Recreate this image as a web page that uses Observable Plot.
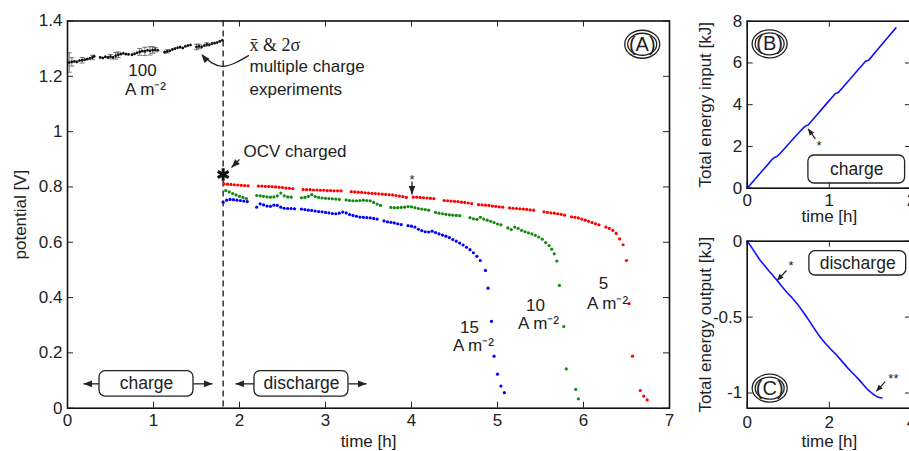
<!DOCTYPE html>
<html><head><meta charset="utf-8">
<script src="https://cdn.jsdelivr.net/npm/d3@7"></script>
<script src="https://cdn.jsdelivr.net/npm/@observablehq/plot@0.6"></script>
<style>
html,body{margin:0;padding:0;background:#fff;}
#wrap{position:relative;width:909px;height:451px;overflow:hidden;background:#fff;}
#wrap svg{position:absolute;}
</style></head><body><div id="wrap"></div>
<script>
// ---------- data ----------
const xTicksA = [0,1,2,3,4,5,6,7];
const yTicksA = [0,0.2,0.4,0.6,0.8,1,1.2,1.4];
const xTicksB = [0,1,2];
const yTicksB = [0,2,4,6,8];
const xTicksC = [0,2,4];
const yTicksC = [0,-0.5,-1];

// charge at 100 A m-2 : [time h, potential V, 2 sigma]
const charge100 = [[0.02,1.250,0.035],[0.05,1.252,0.015],[0.08,1.254,0.004],[0.11,1.252,0.004],[0.14,1.257,0.004],[0.17,1.258,0.010],[0.20,1.260,0.004],[0.23,1.262,0.004],[0.26,1.265,0.004],[0.29,1.268,0.008],[0.31,1.272,0.004],
[0.38,1.268,0.004],[0.41,1.266,0.004],[0.44,1.270,0.004],[0.47,1.268,0.004],[0.50,1.271,0.008],[0.53,1.268,0.004],[0.56,1.274,0.012],[0.59,1.278,0.010],[0.62,1.280,0.004],[0.65,1.283,0.004],[0.68,1.280,0.004],[0.71,1.279,0.004],
[0.75,1.278,0.004],[0.78,1.281,0.004],[0.81,1.285,0.004],[0.84,1.288,0.012],[0.87,1.291,0.004],[0.90,1.290,0.015],[0.93,1.294,0.004],[0.96,1.292,0.015],[0.99,1.295,0.012],[1.02,1.296,0.008],[1.05,1.294,0.004],
[1.13,1.287,0.004],[1.16,1.290,0.006],[1.19,1.292,0.004],[1.22,1.297,0.004],[1.25,1.300,0.004],[1.28,1.303,0.004],[1.31,1.305,0.004],[1.34,1.302,0.004],[1.37,1.308,0.004],[1.40,1.311,0.004],[1.43,1.313,0.004],
[1.50,1.306,0.010],[1.53,1.308,0.008],[1.56,1.306,0.004],[1.59,1.311,0.004],[1.62,1.315,0.006],[1.65,1.314,0.004],[1.68,1.318,0.004],[1.71,1.320,0.004],[1.74,1.322,0.004],[1.77,1.326,0.004],[1.80,1.330,0.004]];

const chargeEnd = [1.81];
const ocvCharged = [[1.81,0.845]];

// discharge at 5 A m-2 (red)
const discharge5 = [[1.82,0.811],[1.86,0.810],[1.90,0.809],[1.94,0.808],[1.98,0.807],[2.02,0.806],[2.06,0.805],[2.10,0.804],
[2.22,0.803],[2.26,0.803],[2.30,0.802],[2.34,0.802],[2.38,0.801],[2.42,0.800],[2.46,0.799],[2.50,0.798],[2.54,0.796],[2.58,0.795],[2.62,0.794],
[2.74,0.791],[2.78,0.790],[2.82,0.790],[2.86,0.789],[2.90,0.789],[2.94,0.788],[2.98,0.788],[3.02,0.787],[3.06,0.787],[3.10,0.786],[3.14,0.786],[3.18,0.786],
[3.30,0.783],[3.34,0.782],[3.38,0.781],[3.42,0.780],[3.46,0.779],[3.50,0.778],[3.54,0.777],[3.58,0.776],[3.62,0.775],[3.66,0.774],[3.70,0.773],[3.74,0.772],[3.78,0.771],[3.82,0.769],[3.86,0.767],[3.90,0.765],[3.94,0.762],
[4.02,0.763],[4.06,0.763],[4.10,0.762],[4.14,0.761],[4.18,0.760],[4.22,0.759],[4.26,0.758],
[4.38,0.751],[4.42,0.750],[4.46,0.749],[4.50,0.748],[4.54,0.747],[4.58,0.745],[4.62,0.744],[4.66,0.742],[4.70,0.740],
[4.78,0.736],[4.82,0.735],[4.86,0.734],[4.90,0.733],[4.94,0.731],[4.98,0.730],[5.02,0.728],[5.06,0.727],
[5.14,0.724],[5.18,0.723],[5.22,0.722],[5.26,0.721],[5.30,0.720],[5.34,0.719],[5.38,0.717],[5.42,0.716],
[5.54,0.710],[5.58,0.708],[5.62,0.706],[5.66,0.705],[5.70,0.703],[5.74,0.701],[5.78,0.698],
[5.86,0.692],[5.90,0.690],[5.94,0.688],[5.98,0.684],[6.02,0.680],[6.06,0.676],[6.10,0.671],[6.14,0.667],[6.18,0.663],
[6.26,0.655],[6.30,0.650],[6.34,0.643],[6.38,0.632],[6.42,0.612],[6.46,0.591],[6.50,0.534],[6.53,0.378],[6.57,0.188],[6.66,0.064],[6.70,0.044],[6.74,0.030]];

// discharge at 10 A m-2 (green)
const discharge10 = [[1.84,0.787],[1.88,0.782],[1.92,0.776],[1.96,0.771],[2.00,0.766],[2.04,0.762],[2.08,0.758],
[2.20,0.769],[2.24,0.768],[2.28,0.766],[2.32,0.764],[2.36,0.763],[2.40,0.764],[2.44,0.768],[2.48,0.778],[2.52,0.768],[2.56,0.764],[2.60,0.763],
[2.72,0.761],[2.76,0.762],[2.80,0.766],[2.84,0.772],[2.88,0.765],[2.92,0.762],[2.96,0.760],[3.00,0.759],[3.04,0.758],[3.08,0.757],[3.12,0.756],[3.16,0.755],
[3.24,0.753],[3.28,0.751],[3.32,0.750],[3.36,0.750],[3.40,0.751],[3.44,0.752],[3.48,0.751],[3.52,0.750],[3.56,0.744],[3.60,0.738],[3.64,0.733],
[3.76,0.726],[3.80,0.725],[3.84,0.725],[3.88,0.726],[3.92,0.727],[3.96,0.729],[4.00,0.728],[4.04,0.725],[4.08,0.722],[4.12,0.720],[4.16,0.718],[4.20,0.716],
[4.28,0.708],[4.32,0.705],[4.36,0.703],[4.40,0.701],[4.44,0.699],[4.48,0.698],[4.52,0.697],[4.56,0.696],
[4.68,0.689],[4.72,0.685],[4.76,0.683],[4.80,0.690],[4.84,0.684],[4.88,0.680],[4.92,0.676],[4.96,0.671],[5.00,0.666],[5.04,0.663],
[5.12,0.652],[5.16,0.646],[5.20,0.655],[5.24,0.650],[5.28,0.643],[5.32,0.638],[5.36,0.634],[5.40,0.630],[5.44,0.625],[5.48,0.619],[5.52,0.611],[5.56,0.599],[5.60,0.588],[5.63,0.575],[5.66,0.558],[5.69,0.532],[5.72,0.444],[5.77,0.295],[5.80,0.142],[5.91,0.068],[5.94,0.034]];

// discharge at 15 A m-2 (blue)
const discharge15 = [[1.81,0.745],[1.85,0.752],[1.89,0.755],[1.93,0.754],[1.97,0.752],[2.01,0.751],[2.05,0.749],[2.09,0.747],
[2.20,0.727],[2.24,0.739],[2.28,0.735],[2.32,0.731],[2.36,0.730],[2.40,0.734],[2.44,0.733],[2.48,0.727],[2.52,0.723],[2.56,0.722],[2.60,0.722],[2.64,0.721],
[2.72,0.720],[2.76,0.718],[2.80,0.716],[2.84,0.715],[2.88,0.713],[2.92,0.711],[2.96,0.710],[3.00,0.708],[3.04,0.706],[3.08,0.704],[3.12,0.703],[3.16,0.705],[3.20,0.709],[3.24,0.706],[3.28,0.700],[3.32,0.697],[3.36,0.694],[3.40,0.691],[3.44,0.690],[3.48,0.689],[3.52,0.688],[3.56,0.686],[3.60,0.684],
[3.68,0.677],[3.72,0.674],[3.76,0.672],[3.80,0.670],[3.84,0.667],[3.88,0.664],
[3.96,0.660],[4.00,0.658],[4.04,0.655],[4.08,0.647],[4.12,0.642],[4.16,0.638],[4.20,0.637],[4.24,0.640],[4.28,0.635],[4.32,0.630],[4.36,0.626],[4.40,0.622],[4.44,0.617],[4.48,0.610],[4.52,0.604],[4.56,0.597],[4.60,0.590],[4.64,0.582],[4.68,0.573],[4.72,0.562],[4.76,0.549],[4.80,0.534],[4.86,0.498],[4.89,0.434],[4.93,0.314],[4.96,0.188],[5.00,0.123],[5.04,0.080],[5.08,0.056]];

// panel B: total energy input [kJ] vs time [h]
const energyIn = [[0,0],[0.05,0.23],[0.10,0.45],[0.15,0.68],[0.20,0.91],[0.25,1.13],[0.30,1.36],[0.32,1.44],[0.34,1.49],[0.36,1.51],[0.38,1.58],[0.45,1.88],[0.55,2.32],[0.65,2.75],[0.70,2.95],[0.72,3.00],[0.74,3.02],[0.76,3.11],[0.85,3.52],[0.95,3.98],[1.05,4.43],[1.07,4.52],[1.09,4.56],[1.11,4.59],[1.13,4.68],[1.25,5.22],[1.35,5.67],[1.42,5.99],[1.44,6.08],[1.46,6.11],[1.48,6.14],[1.50,6.23],[1.60,6.70],[1.70,7.17],[1.81,7.68]];

// panel C: total energy output [kJ] vs time [h]
const energyOut = [[0,0],[0.08,-0.030],[0.16,-0.062],[0.24,-0.096],[0.32,-0.127],[0.42,-0.160],[0.52,-0.193],[0.62,-0.224],[0.73,-0.259],[0.85,-0.300],[0.97,-0.338],[1.09,-0.372],[1.22,-0.413],[1.35,-0.462],[1.48,-0.512],[1.60,-0.562],[1.70,-0.602],[1.78,-0.633],[1.90,-0.672],[2.04,-0.713],[2.19,-0.754],[2.32,-0.795],[2.45,-0.836],[2.59,-0.875],[2.72,-0.912],[2.83,-0.945],[2.92,-0.974],[3.02,-0.998],[3.10,-1.014],[3.16,-1.024],[3.22,-1.030],[3.28,-1.033]];

// ---------- helpers ----------
const FONT = "'Liberation Sans', Arial, Helvetica, sans-serif";
const ink = "#222";
const TL = 6;
const fmt = d => String(+d.toFixed(2));
const toObj = a => a.map(([t, v, e]) => ({t, v, e}));
const charge = toObj(charge100), red = toObj(discharge5), green = toObj(discharge10), blue = toObj(discharge15);
const ocv = toObj(ocvCharged), eIn = toObj(energyIn), eOut = toObj(energyOut);

const capSym = {draw(ctx){ctx.moveTo(-2.5,0);ctx.lineTo(2.5,0);}};
const headSym = {draw(ctx){ctx.moveTo(0,0);ctx.lineTo(-3.3,8.5);ctx.lineTo(3.3,8.5);ctx.closePath();}};
const headSmall = {draw(ctx){ctx.moveTo(0,0);ctx.lineTo(-2.8,6.5);ctx.lineTo(2.8,6.5);ctx.closePath();}};
const ellipse = (ax, ay) => ({draw(ctx){const k=0.5523;
  ctx.moveTo(ax,0);ctx.bezierCurveTo(ax,ay*k,ax*k,ay,0,ay);ctx.bezierCurveTo(-ax*k,ay,-ax,ay*k,-ax,0);
  ctx.bezierCurveTo(-ax,-ay*k,-ax*k,-ay,0,-ay);ctx.bezierCurveTo(ax*k,-ay,ax,-ay*k,ax,0);ctx.closePath();}});

function ticks(xt, yt, fw, fh){
  return [
    Plot.ruleX(xt, {x: d=>d, insetTop: fh - TL, stroke: ink, strokeWidth: 1}),
    Plot.ruleX(xt, {x: d=>d, insetBottom: fh - TL, stroke: ink, strokeWidth: 1}),
    Plot.ruleY(yt, {y: d=>d, insetRight: fw - TL, stroke: ink, strokeWidth: 1}),
    Plot.ruleY(yt, {y: d=>d, insetLeft: fw - TL, stroke: ink, strokeWidth: 1})
  ];
}
function arrow(x1, y1, x2, y2, rot, head = headSym, sw = 1.3){
  return [
    Plot.link([0], {x1, y1, x2, y2, stroke: ink, strokeWidth: sw}),
    Plot.dot([0], {x: x2, y: y2, symbol: head, rotate: rot, fill: ink, stroke: "none"})
  ];
}
function label(txt, x, y, opts = {}){
  return Plot.text([txt], {x, y, text: d=>d, fill: ink, fontSize: 17, fontFamily: FONT, ...opts});
}
function box(x1, x2, y1, y2){
  return Plot.rect([0], {x1, x2, y1, y2, rx: 6, fill: "white", stroke: ink, strokeWidth: 1.3});
}
function circled(txt, x, y){
  return [
    Plot.dot([0], {x, y, symbol: ellipse(17.5, 14), fill: "none", stroke: ink, strokeWidth: 1.3}),
    Plot.dot([0], {x, y, symbol: ellipse(14.5, 11), fill: "none", stroke: ink, strokeWidth: 1.3}),
    label(txt, x, y, {fontSize: 20})
  ];
}
function xTitle(txt, dy){
  return Plot.text([txt], {frameAnchor: "bottom", dy, textAnchor: "middle", lineAnchor: "middle", fontSize: 17, fill: ink});
}
function yTitle(txt, dx){
  return Plot.text([txt], {frameAnchor: "left", dx, rotate: -90, textAnchor: "middle", lineAnchor: "middle", fontSize: 17, fill: ink});
}
const style = {fontFamily: FONT, fontSize: "17px", color: ink, background: "transparent", overflow: "visible"};

// ---------- panel A ----------
const mA = {top: 20.5, right: 11, bottom: 43.3, left: 67}, WA = 680, HA = 451;
const fwA = WA - mA.left - mA.right, fhA = HA - mA.top - mA.bottom;
const plotA = Plot.plot({
  width: WA, height: HA, marginTop: mA.top, marginRight: mA.right, marginBottom: mA.bottom, marginLeft: mA.left,
  x: {domain: [0, 7], label: null}, y: {domain: [0, 1.4], label: null}, style,
  marks: [
    ...ticks(xTicksA, yTicksA, fwA, fhA),
    Plot.axisX(xTicksA, {tickSize: 0, tickPadding: 6, fontSize: 17, tickFormat: fmt, label: null, fill: ink}),
    Plot.axisY(yTicksA, {tickSize: 0, tickPadding: 5, fontSize: 17, tickFormat: fmt, label: null, fill: ink}),
    xTitle("time [h]", 33.5),
    yTitle("potential [V]", -47),
    Plot.ruleX(chargeEnd, {x: d=>d, stroke: "#333", strokeWidth: 1.5, strokeDasharray: "6,4"}),
    // error bars on charge data
    Plot.ruleX(charge, {x: "t", y1: d=>d.v - d.e, y2: d=>d.v + d.e, stroke: "#555", strokeWidth: 0.8}),
    Plot.dot(charge.filter(d=>d.e > 0.005), {x: "t", y: d=>d.v + d.e, symbol: capSym, fill: "none", stroke: "#555", strokeWidth: 0.8}),
    Plot.dot(charge.filter(d=>d.e > 0.005), {x: "t", y: d=>d.v - d.e, symbol: capSym, fill: "none", stroke: "#555", strokeWidth: 0.8}),
    Plot.dot(charge, {x: "t", y: "v", r: 1.4, fill: "#111"}),
    Plot.dot(red, {x: "t", y: "v", r: 1.6, fill: "#ff0000"}),
    Plot.dot(green, {x: "t", y: "v", r: 1.6, fill: "#128a12"}),
    Plot.dot(blue, {x: "t", y: "v", r: 1.6, fill: "#0000ff"}),
    Plot.dot(ocv, {x: "t", y: "v", symbol: "asterisk", r: 6, stroke: "#111", strokeWidth: 3, fill: "none"}),
    // annotations
    label("x\u0304 & 2\u03c3", 2.116, 1.312, {textAnchor: "start", fontFamily: "'Liberation Serif', 'Times New Roman', serif", fontSize: 18}),
    label("multiple charge", 2.116, 1.236, {textAnchor: "start"}),
    label("experiments", 2.116, 1.153, {textAnchor: "start"}),
    Plot.line([[2.105,1.275],[1.802,1.236],[1.57,1.276]], {x: d=>d[0], y: d=>d[1], curve: "natural", stroke: ink, strokeWidth: 1.3}),
    Plot.dot([0], {x: 1.558, y: 1.279, symbol: headSym, rotate: -40, fill: ink}),
    label("100", 0.872, 1.221),
    label("A m\u207b\u00b2", 0.907, 1.153),
    label("OCV charged", 2.047, 0.928, {textAnchor: "start"}),
    ...arrow(2.0, 0.899, 1.907, 0.870, -135),
    label("*", 4.006, 0.826, {fontSize: 13}),
    ...arrow(4.006, 0.820, 4.006, 0.773, 180),
    label("15", 4.674, 0.291),
    label("A m\u207b\u00b2", 4.72, 0.227),
    label("10", 5.442, 0.371),
    label("A m\u207b\u00b2", 5.477, 0.306),
    label("5", 6.233, 0.451),
    label("A m\u207b\u00b2", 6.28, 0.379),
    ...arrow(0.372, 0.088, 0.186, 0.088, -90),
    ...arrow(1.465, 0.088, 1.686, 0.088, 90),
    box(0.372, 1.465, 0.042, 0.134),
    label("charge", 0.919, 0.088, {fontSize: 17.5}),
    ...arrow(2.174, 0.088, 1.953, 0.088, -90),
    ...arrow(3.267, 0.088, 3.477, 0.088, 90),
    box(2.174, 3.267, 0.042, 0.134),
    label("discharge", 2.721, 0.088, {fontSize: 17.5}),
    ...circled("(A)", 6.683, 1.316),
    Plot.frame({stroke: "#111", strokeWidth: 1.6})
  ]
});

// ---------- panel B ----------
const mB = {top: 20.7, right: 9, bottom: 37.3, left: 66.7}, WB = 240, HB = 225;
const fwB = WB - mB.left - mB.right, fhB = HB - mB.top - mB.bottom;
const plotB = Plot.plot({
  width: WB, height: HB, marginTop: mB.top, marginRight: mB.right, marginBottom: mB.bottom, marginLeft: mB.left,
  x: {domain: [0, 2], label: null}, y: {domain: [0, 8], label: null}, style,
  marks: [
    ...ticks(xTicksB, yTicksB, fwB, fhB),
    Plot.axisX(xTicksB, {tickSize: 0, tickPadding: 6, fontSize: 17, tickFormat: fmt, label: null, fill: ink}),
    Plot.axisY(yTicksB, {tickSize: 0, tickPadding: 5, fontSize: 17, tickFormat: fmt, label: null, fill: ink}),
    xTitle("time [h]", 28.5),
    yTitle("Total energy input [kJ]", -41.7),
    Plot.line(eIn, {x: "t", y: "v", stroke: "#1010ff", strokeWidth: 1.6}),
    box(0.745, 1.922, 0.225, 1.567),
    label("charge", 1.333, 0.896, {fontSize: 17.5}),
    ...arrow(0.830, 2.366, 0.741, 2.845, -36, headSmall, 1.2),
    label("*", 0.875, 2.05, {fontSize: 13}),
    ...circled("(B)", 0.273, 6.917),
    Plot.frame({stroke: "#111", strokeWidth: 1.6})
  ]
});

// ---------- panel C ----------
const mC = {top: 15.7, right: 9, bottom: 43.3, left: 66.7}, WC = 240, HC = 226;
const fwC = WC - mC.left - mC.right, fhC = HC - mC.top - mC.bottom;
const plotC = Plot.plot({
  width: WC, height: HC, marginTop: mC.top, marginRight: mC.right, marginBottom: mC.bottom, marginLeft: mC.left,
  x: {domain: [0, 4], label: null}, y: {domain: [-1.1, 0], label: null}, style,
  marks: [
    ...ticks(xTicksC, yTicksC, fwC, fhC),
    Plot.axisX(xTicksC, {tickSize: 0, tickPadding: 8, fontSize: 17, tickFormat: fmt, label: null, fill: ink}),
    Plot.axisY(yTicksC, {tickSize: 0, tickPadding: 5, fontSize: 17, tickFormat: fmt, label: null, fill: ink}),
    xTitle("time [h]", 33.5),
    yTitle("Total energy output [kJ]", -41.7),
    Plot.line(eOut, {x: "t", y: "v", stroke: "#1010ff", strokeWidth: 1.6}),
    box(1.514, 3.871, -0.226, -0.066),
    label("discharge", 2.69, -0.146, {fontSize: 17.5}),
    ...arrow(0.955, -0.193, 0.729, -0.259, -137, headSmall, 1.2),
    label("*", 1.07, -0.165, {fontSize: 13}),
    ...arrow(3.36, -0.925, 3.142, -0.989, -137, headSmall, 1.2),
    label("**", 3.56, -0.905, {fontSize: 13}),
    ...circled("(C)", 0.547, -0.968),
    Plot.frame({stroke: "#111", strokeWidth: 1.6})
  ]
});

const wrap = document.getElementById("wrap");
[[plotA, 0, 0], [plotB, 680, 0], [plotC, 680, 225]].forEach(([el, l, t]) => {
  el.style.position = "absolute"; el.style.left = l + "px"; el.style.top = t + "px";
  el.style.maxWidth = "none";
  wrap.appendChild(el);
});
</script></body></html>
